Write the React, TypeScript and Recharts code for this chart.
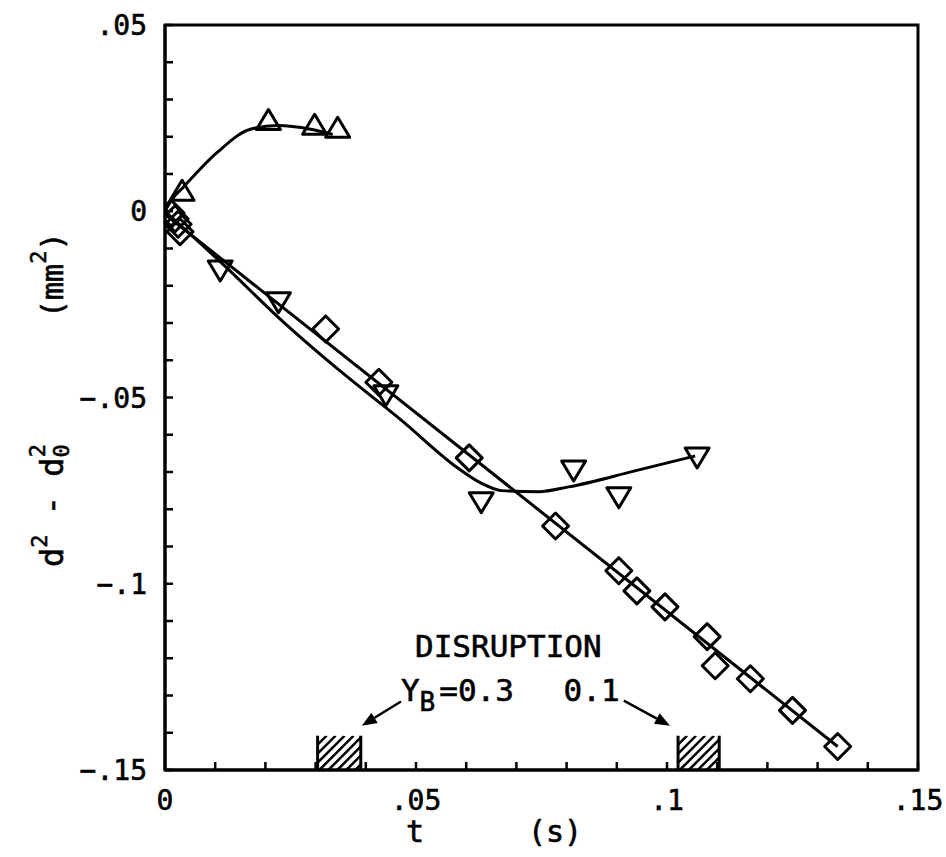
import React from "react";
import {
  ComposedChart,
  Line,
  Scatter,
  XAxis,
  YAxis,
  ReferenceArea,
  ReferenceLine,
  ReferenceDot,
} from "recharts";

const FONT = "'DejaVu Sans Mono', 'Liberation Mono', monospace";

// measured points (t in s, d^2 - d0^2 in mm^2)
const diamondT = [0.0012, 0.002, 0.0026, 0.003, 0.032, 0.0426, 0.0606, 0.0778, 0.0904, 0.094, 0.0996, 0.108, 0.1096, 0.1166, 0.125, 0.134];
const diamondY = [-0.0005, -0.002, -0.0035, -0.0055, -0.0316, -0.0459, -0.0662, -0.0845, -0.0965, -0.1019, -0.1062, -0.1142, -0.122, -0.1255, -0.134, -0.1437];

const downT = [0.011, 0.0226, 0.044, 0.063, 0.0814, 0.0904, 0.106];
const downY = [-0.0155, -0.024, -0.049, -0.0777, -0.0692, -0.0764, -0.0657];

const upT = [0.0034, 0.0206, 0.0298, 0.0344];
const upY = [0.0051, 0.0241, 0.0228, 0.022];

// fitted curves
const diamondFitT = [0, 0.134];
const diamondFitY = [-0.0008, -0.1437];

const downFitT = [0, 0.012, 0.023, 0.035, 0.047, 0.0584, 0.063, 0.067, 0.0744, 0.0804, 0.0936, 0.1056];
const downFitY = [0, -0.0148, -0.029, -0.043, -0.056, -0.069, -0.073, -0.075, -0.0753, -0.074, -0.0697, -0.0657];

const upFitT = [0, 0.0014, 0.0036, 0.0104, 0.017, 0.0224, 0.029, 0.0334];
const upFitY = [0, 0.0032, 0.0064, 0.0158, 0.022, 0.023, 0.022, 0.0206];

// axes
const xTicks = [0, 0.01, 0.02, 0.03, 0.04, 0.05, 0.06, 0.07, 0.08, 0.09, 0.1, 0.11, 0.12, 0.13, 0.14, 0.15];
const xMajor = [0, 0.05, 0.1, 0.15];
const xMajorLabels = ["0", ".05", ".1", ".15"];
const yTicks = [0.05, 0.04, 0.03, 0.02, 0.01, 0, -0.01, -0.02, -0.03, -0.04, -0.05, -0.06, -0.07, -0.08, -0.09, -0.1, -0.11, -0.12, -0.13, -0.14, -0.15];
const yMajor = [0.05, 0, -0.05, -0.1, -0.15];
const yMajorLabels = [".05", "0", "\u2212.05", "\u2212.1", "\u2212.15"];

// disruption bands and arrows
const bandT0 = [0.0304, 0.1022];
const bandT1 = [0.039, 0.1104];
const bandTop = -0.1408;
const arrowFrom = [
  { t: 0.047, y: -0.1316 },
  { t: 0.0914, y: -0.1314 },
];
const arrowTo = [
  { t: 0.0392, y: -0.1381 },
  { t: 0.1006, y: -0.1381 },
];

const zip = (ts: number[], ys: number[]) => ts.map((t, i) => ({ t, y: ys[i] }));

const majorLabel = (v: number, major: number[], labels: string[]) => {
  const i = major.findIndex((m) => Math.abs(m - v) < 1e-6);
  return i >= 0 ? labels[i] : null;
};

const ink = { fill: "#000", stroke: "#000", strokeWidth: 0.6 };

const XTick = (props: any) => {
  const { x, y, payload } = props;
  const lab = majorLabel(payload.value, xMajor, xMajorLabels);
  return (
    <g>
      <line x1={x} y1={y} x2={x} y2={y - 8} stroke="#000" strokeWidth={2.5} />
      {lab && (
        <text x={x} y={y + 40} textAnchor="middle" fontFamily={FONT} fontSize={28} {...ink}>
          {lab}
        </text>
      )}
    </g>
  );
};

const YTick = (props: any) => {
  const { x, y, payload } = props;
  const lab = majorLabel(payload.value, yMajor, yMajorLabels);
  return (
    <g>
      <line x1={x} y1={y} x2={x + 8} y2={y} stroke="#000" strokeWidth={2.5} />
      {lab && (
        <text x={x - 18} y={y + 10} textAnchor="end" fontFamily={FONT} fontSize={28} {...ink}>
          {lab}
        </text>
      )}
    </g>
  );
};

const YLabel = (props: any) => {
  const vb = props.viewBox || { x: 0, y: 25 };
  const bx = vb.x + 63;
  return (
    <g fontFamily={FONT} {...ink}>
      <text transform={`translate(${bx},${vb.y + 542}) rotate(-90)`} fontSize={32}>
        <tspan>d</tspan>
        <tspan dy={-16} fontSize={22}>2</tspan>
        <tspan dy={16}> - d</tspan>
        <tspan dy={6} fontSize={22}>0</tspan>
        <tspan dx={-13} dy={-24} fontSize={22}>2</tspan>
      </text>
      <text transform={`translate(${bx},${vb.y + 293}) rotate(-90)`} fontSize={30}>
        <tspan>(mm</tspan>
        <tspan dy={-17} fontSize={22}>2</tspan>
        <tspan dy={17}>)</tspan>
      </text>
    </g>
  );
};

const XLabel = (props: any) => {
  const vb = props.viewBox || { x: 165, y: 770, width: 753 };
  return (
    <g fontFamily={FONT} fontSize={30} {...ink}>
      <text x={vb.x + 250} y={vb.y + 72} textAnchor="middle">t</text>
      <text x={vb.x + 390} y={vb.y + 72} textAnchor="middle">(s)</text>
    </g>
  );
};

const TriUp = (p: any) => (
  <polygon
    points={`${p.cx},${p.cy - 12} ${p.cx - 12},${p.cy + 8} ${p.cx + 12},${p.cy + 8}`}
    fill="none"
    stroke="#000"
    strokeWidth={3}
    strokeLinejoin="round"
  />
);

const TriDown = (p: any) => (
  <polygon
    points={`${p.cx - 12},${p.cy - 8} ${p.cx + 12},${p.cy - 8} ${p.cx},${p.cy + 12}`}
    fill="none"
    stroke="#000"
    strokeWidth={3}
    strokeLinejoin="round"
  />
);

const Diamond = (p: any) => (
  <polygon
    points={`${p.cx},${p.cy - 13} ${p.cx + 13},${p.cy} ${p.cx},${p.cy + 13} ${p.cx - 13},${p.cy}`}
    fill="none"
    stroke="#000"
    strokeWidth={3}
    strokeLinejoin="round"
  />
);

let hatchId = 0;
const Hatch = (p: any) => {
  const { x, y, width, height } = p;
  if (x == null) return null;
  const id = `hatch-clip-${hatchId++}`;
  const lines = [];
  for (let k = -height; k < width + height; k += 9) {
    lines.push(
      <line key={k} x1={x + k} y1={y + height} x2={x + k + height} y2={y} stroke="#000" strokeWidth={2.5} />
    );
  }
  return (
    <g>
      <clipPath id={id}>
        <rect x={x} y={y} width={width} height={height} />
      </clipPath>
      <g clipPath={`url(#${id})`}>{lines}</g>
      <line x1={x} y1={y} x2={x} y2={y + height} stroke="#000" strokeWidth={3} />
      <line x1={x + width} y1={y} x2={x + width} y2={y + height} stroke="#000" strokeWidth={3} />
    </g>
  );
};

const Arrow = (p: any) => {
  const { x1, y1, x2, y2 } = p;
  if (x1 == null) return null;
  const ang = Math.atan2(y2 - y1, x2 - x1);
  const len = 15;
  const w = 6;
  const bx = x2 - len * Math.cos(ang);
  const by = y2 - len * Math.sin(ang);
  const nx = -Math.sin(ang) * w;
  const ny = Math.cos(ang) * w;
  return (
    <g>
      <line x1={x1} y1={y1} x2={bx} y2={by} stroke="#000" strokeWidth={2.5} />
      <polygon points={`${x2},${y2} ${bx + nx},${by + ny} ${bx - nx},${by - ny}`} fill="#000" />
    </g>
  );
};

const textShape = (content: React.ReactNode, anchor: string) => (p: any) => (
  <text x={p.cx} y={p.cy + 11} textAnchor={anchor} fontFamily={FONT} fontSize={31} {...ink}>
    {content}
  </text>
);

export default function App() {
  return (
    <div style={{ position: "absolute", left: 0, top: 0, background: "#fff" }}>
      <ComposedChart width={946} height={857} margin={{ top: 25, right: 28, bottom: 0, left: 0 }}>
        <XAxis
          dataKey="t"
          type="number"
          domain={[0, 0.15]}
          ticks={xTicks}
          interval={0}
          tickLine={false}
          tickSize={0}
          tickMargin={0}
          tick={<XTick />}
          axisLine={{ stroke: "#000", strokeWidth: 3 }}
          height={87}
          allowDataOverflow
          label={{ content: XLabel } as any}
        />
        <YAxis
          dataKey="y"
          type="number"
          domain={[-0.15, 0.05]}
          ticks={yTicks}
          interval={0}
          tickLine={false}
          tickSize={0}
          tickMargin={0}
          tick={<YTick />}
          axisLine={{ stroke: "#000", strokeWidth: 3 }}
          width={165}
          allowDataOverflow
          label={{ content: YLabel } as any}
        />
        <ReferenceArea x1={0} x2={0.15} y1={-0.15} y2={0.05} fill="none" stroke="#000" strokeWidth={3} />
        {bandT0.map((t0, i) => (
          <ReferenceArea key={`band${i}`} x1={t0} x2={bandT1[i]} y1={-0.15} y2={bandTop} shape={Hatch} />
        ))}
        {arrowFrom.map((a, i) => (
          <ReferenceLine
            key={`arr${i}`}
            segment={[
              { x: a.t, y: a.y },
              { x: arrowTo[i].t, y: arrowTo[i].y },
            ]}
            shape={Arrow}
          />
        ))}
        <ReferenceDot x={0.0684} y={-0.1166} r={1} shape={textShape("DISRUPTION", "middle")} />
        <ReferenceDot
          x={0.047}
          y={-0.1285}
          r={1}
          shape={textShape(
            <>
              <tspan>Y</tspan>
              <tspan dy={10} fontSize={26}>B</tspan>
              <tspan dx={4} dy={-10}>=0.3</tspan>
            </>,
            "start"
          )}
        />
        <ReferenceDot x={0.0794} y={-0.1285} r={1} shape={textShape("0.1", "start")} />
        <Line
          data={zip(diamondFitT, diamondFitY)}
          dataKey="y"
          type="linear"
          stroke="#000"
          strokeWidth={3}
          dot={false}
          isAnimationActive={false}
        />
        <Line
          data={zip(downFitT, downFitY)}
          dataKey="y"
          type="monotone"
          stroke="#000"
          strokeWidth={3}
          dot={false}
          isAnimationActive={false}
        />
        <Line
          data={zip(upFitT, upFitY)}
          dataKey="y"
          type="monotone"
          stroke="#000"
          strokeWidth={3}
          dot={false}
          isAnimationActive={false}
        />
        <Scatter data={zip(diamondT, diamondY)} dataKey="y" shape={Diamond} isAnimationActive={false} />
        <Scatter data={zip(downT, downY)} dataKey="y" shape={TriDown} isAnimationActive={false} />
        <Scatter data={zip(upT, upY)} dataKey="y" shape={TriUp} isAnimationActive={false} />
      </ComposedChart>
    </div>
  );
}
